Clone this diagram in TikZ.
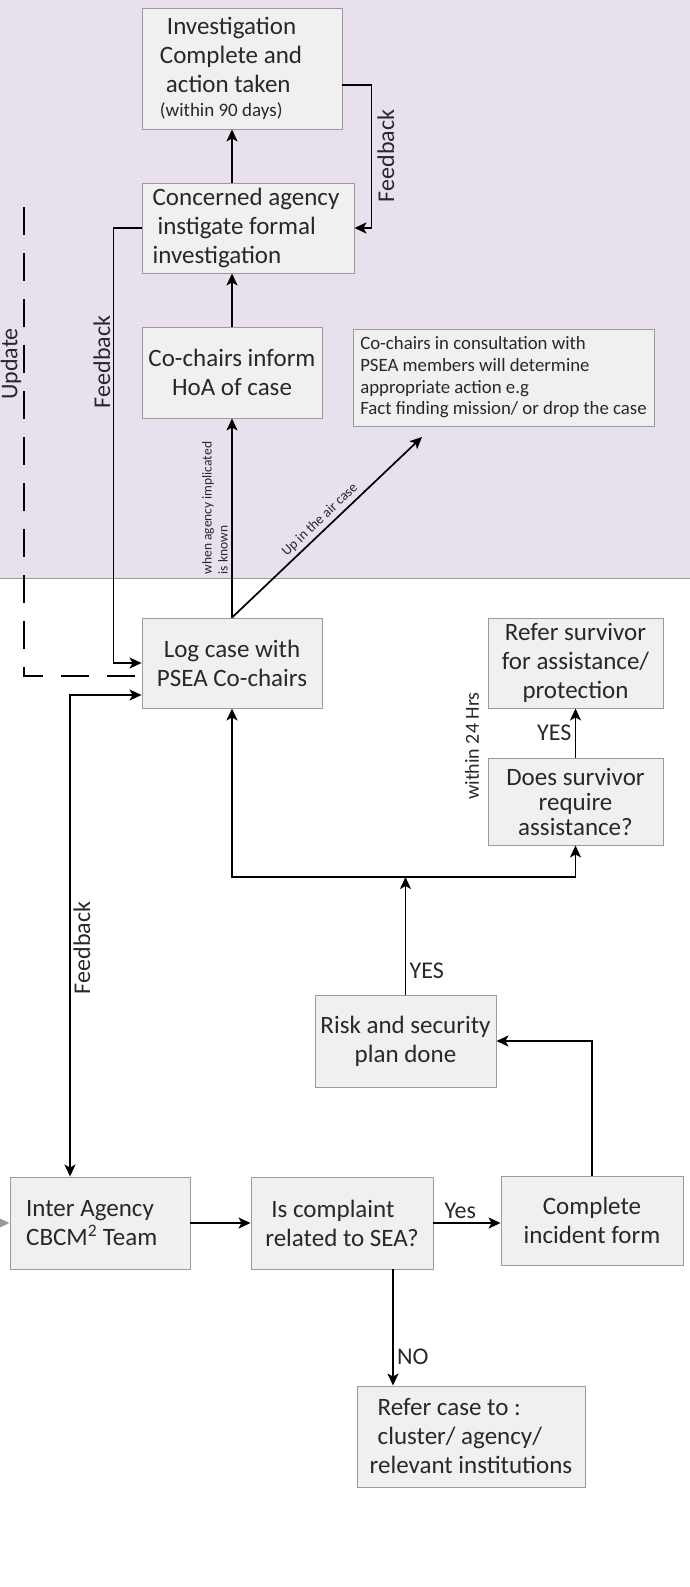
\documentclass[tikz,border=0pt]{standalone}
\usepackage{fontspec}
\setmainfont{Carlito}
\usepackage{xcolor}
\usetikzlibrary{arrows.meta}
\definecolor{bgpurple}{RGB}{233,224,238}
\definecolor{boxfill}{RGB}{240,240,240}
\definecolor{boxline}{RGB}{155,155,155}
\definecolor{txt}{RGB}{40,40,40}

\begin{document}
\begin{tikzpicture}[x=1pt,y=-1pt,
        >={Stealth[length=12pt,width=11pt,inset=3pt]},
        box/.style={draw=boxline,fill=boxfill,line width=0.9pt,inner sep=0pt,align=center,text=txt,font=\fontsize{25}{29}\selectfont},
        conn/.style={line width=1.7pt,->},
        greyconn/.style={line width=1.7pt,->,draw=boxline,fill=boxline},
        update/.style={line width=1.6pt,dash pattern=on 28pt off 18pt},
        lbl/.style={text=txt,font=\fontsize{24}{28}\selectfont},
        smalllbl/.style={text=txt,font=\fontsize{13.5}{16}\selectfont}]
        \useasboundingbox (0,0) rectangle (690,1587);
        \fill[bgpurple] (0,0) rectangle (690,578);
        \draw[boxline,line width=0.8pt] (0,578) -- (690,578);
        \node[box,minimum width=200pt,minimum height=121pt,align=left] (invest) at (242,68.5) {\hspace*{7pt}Investigation\\Complete and\rule{22pt}{0pt}\\\hspace*{6pt}action taken\\[-5pt]{\fontsize{19}{22}\selectfont (within 90 days)}};
        \node[box,minimum width=212pt,minimum height=90pt,align=left] (concern) at (248,228) {Concerned agency\rule{4pt}{0pt}\\\hspace*{5pt}instigate formal\\investigation};
        \node[box,minimum width=180pt,minimum height=91pt] (hoa) at (232,372.5) {Co-chairs inform\\HoA of case};
        \node[box,minimum width=301pt,minimum height=97pt,align=left,font=\fontsize{18.8}{21.7}\selectfont] (psea) at (503.5,377.5) {Co-chairs in consultation with\\PSEA members will determine\\appropriate action e.g\\Fact finding mission/ or drop the case};
        \node[box,minimum width=180pt,minimum height=90pt] (log) at (232,663) {Log case with\\PSEA Co-chairs};
        \node[box,minimum width=175pt,minimum height=90pt] (survivor) at (575.5,663) {Refer survivor\\for assistance/\\protection};
        \node[box,minimum width=175pt,minimum height=87pt] (needs) at (575.5,801.5) {Does survivor\\[-4pt]require\\[-4pt]assistance?};
        \node[box,minimum width=181pt,minimum height=92pt] (risk) at (405.5,1041) {Risk and security\\plan done};
        \node[box,minimum width=180pt,minimum height=92pt,align=left] (inter) at (100,1223) {Inter Agency\rule{20pt}{0pt}\\CBCM\textsuperscript{2} Team};
        \node[box,minimum width=182pt,minimum height=92pt,align=left] (complaint) at (342,1223) {\hspace*{6pt}Is complaint\\related to SEA?};
        \node[box,minimum width=182pt,minimum height=89pt] (incident) at (592,1220.5) {Complete\\incident form};
        \node[box,minimum width=228pt,minimum height=101pt,align=left] (refercase) at (471,1436.5) {\hspace*{8pt}Refer case to :\\\hspace*{8pt}cluster/ agency/\\relevant institutions};
        \coordinate (updtop) at (24,207);
        \coordinate (upair) at (422,437);
        \coordinate (junc) at (405.5,877);
        \draw[conn] (log.north) -- node[smalllbl,rotate=90,anchor=south,align=left,pos=0.55] (knownlbl) {when agency implicated\\is known} (hoa.south);
        \draw[conn] (hoa.north) -- (concern.south -| hoa.north);
        \draw[conn] (concern.north -| hoa.north) -- (invest.south -| hoa.north);
        \draw[conn] ([yshift=-16.5pt]invest.east) -- ++(29,0) |- (concern.east);
        \node[lbl,rotate=90] (fbtop) at (386,156) {Feedback};
        \draw[conn] (concern.west) -- ++(-28,0) |- (log.west);
        \node[lbl,rotate=90] (fbleft) at (102,362) {Feedback};
        \draw[update] (updtop) |- ([yshift=-13pt]log.west);
        \node[lbl,rotate=90] (updlbl) at (11,364) {Update};
        \draw[conn,<->] ([yshift=-32pt]log.west) -| ([xshift=-30pt]inter.north);
        \node[lbl,rotate=90] (fbbottom) at (82,948) {Feedback};
        \draw[conn] (log.north) -- node[midway,above,sloped,text=txt,font=\fontsize{14}{16}\selectfont] (upairlbl) {Up in the air case} (upair);
        \draw[conn,<->] (log.south) |- (junc) -| (needs.south);
        \draw[conn] (risk.north) -- node[lbl,right,pos=0.2] (yesrisk) {YES} (junc);
        \draw[conn] (needs.north) -- node[lbl,left] (yessurv) {YES} (survivor.south);
        \node[lbl,rotate=90,font=\fontsize{20}{24}\selectfont] (hrs) at (472,746) {within 24 Hrs};
        \draw[conn] (incident.north) |- (risk.east);
        \draw[conn] (inter.east) -- (complaint.west);
        \draw[conn] (complaint.east) -- node[lbl,above,pos=0.4] (yeslbl) {Yes} (complaint.east -| incident.west);
        \draw[conn] ([xshift=51pt]complaint.south) -- node[lbl,right,pos=0.75] (nolbl) {NO} ([xshift=51pt]complaint.south |- refercase.north);
        \draw[greyconn] (-20,1223) -- (inter.west);
    \end{tikzpicture}
\end{document}
